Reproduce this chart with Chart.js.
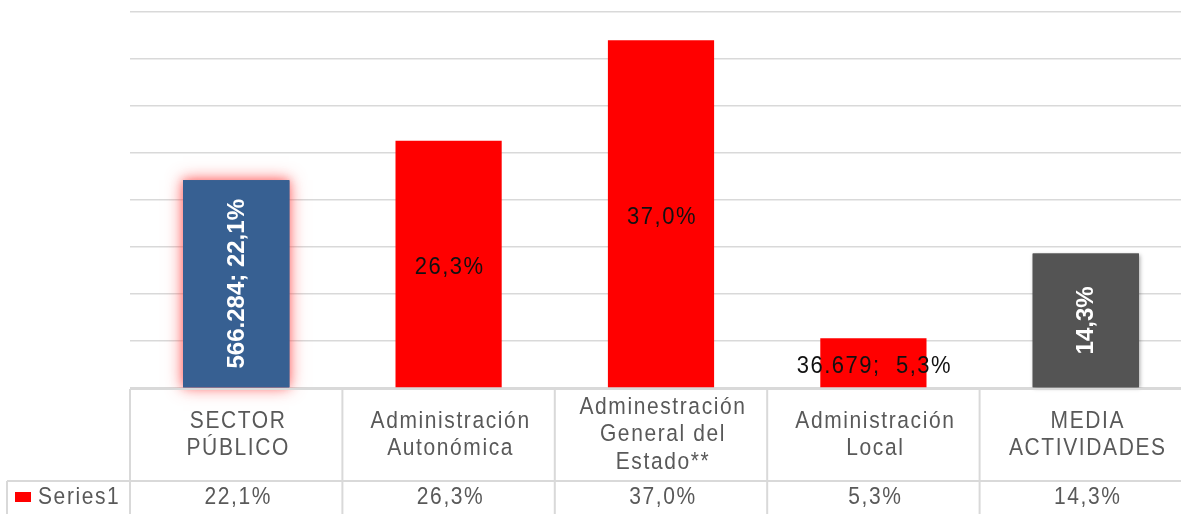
<!DOCTYPE html>
<html>
<head>
<meta charset="utf-8">
<script src="https://cdn.jsdelivr.net/npm/chart.js@4.4.1/dist/chart.umd.min.js"></script>
<style>
  html, body { margin: 0; padding: 0; background: #fff; overflow: hidden; }
  #wrap { width: 1192px; height: 514px; position: relative; }
</style>
</head>
<body>
<div id="wrap"><canvas id="chart"></canvas></div>
<script>
// Chart data
const categories = [
  ['SECTOR', 'PÚBLICO'],
  ['Administración', 'Autonómica'],
  ['Adminestración', 'General del', 'Estado**'],
  ['Administración', 'Local'],
  ['MEDIA', 'ACTIVIDADES']
];
const values = [22.1, 26.3, 37.0, 5.3, 14.3];
const barLabels = ['566.284; 22,1%', '26,3%', '37,0%', '36.679;  5,3%', '14,3%'];
const tableValues = ['22,1%', '26,3%', '37,0%', '5,3%', '14,3%'];
const seriesName = 'Series1';
const barColors = ['#376092', '#ff0000', '#ff0000', '#ff0000', '#545454'];

const GRID = '#d9d9d9';
const TEXT = '#595959';
const FONT = '"Liberation Sans", Arial, sans-serif';

// text in the original is a bit stretched vertically
function tallText(ctx, t, x, y, sy) {
  ctx.save();
  ctx.translate(x, y);
  ctx.scale(1, sy);
  ctx.fillText(t, 0, 0);
  ctx.restore();
}

// glow behind the first bar, soft shadow behind the last one
const barEffects = {
  id: 'barEffects',
  beforeDatasetsDraw(chart) {
    const ctx = chart.ctx;
    const bars = chart.getDatasetMeta(0).data;
    const glow = (bar, color, blur, off) => {
      const w = bar.width;
      ctx.save();
      ctx.shadowColor = color;
      ctx.shadowBlur = blur;
      ctx.shadowOffsetX = off;
      ctx.shadowOffsetY = off;
      ctx.fillStyle = bar.options.backgroundColor;
      ctx.fillRect(bar.x - w / 2, bar.y, w, bar.base - bar.y);
      ctx.restore();
    };
    glow(bars[0], 'rgba(255,60,60,0.75)', 16, 0);
    glow(bars[0], 'rgba(255,90,90,0.5)', 8, 0);
    glow(bars[4], 'rgba(0,0,0,0.35)', 4, 1);
  }
};

// value labels inside the bars
const barText = {
  id: 'barText',
  afterDatasetsDraw(chart) {
    const ctx = chart.ctx;
    const bars = chart.getDatasetMeta(0).data;
    bars.forEach((bar, i) => {
      const cy = (bar.y + bar.base) / 2;
      ctx.save();
      ctx.textAlign = 'center';
      ctx.textBaseline = 'middle';
      if (i === 0 || i === 4) {
        ctx.translate(bar.x + 1, cy);
        ctx.rotate(-Math.PI / 2);
        ctx.font = 'bold 24px ' + FONT;
        ctx.fillStyle = '#ffffff';
        ctx.fillText(barLabels[i], 0, 0);
      } else {
        ctx.font = '22px ' + FONT;
        ctx.letterSpacing = '1.5px';
        ctx.fillStyle = '#111111';
        tallText(ctx, barLabels[i], bar.x + 1, cy + 3, 1.12);
      }
      ctx.restore();
    });
  }
};

// data table under the plot
const dataTable = {
  id: 'dataTable',
  afterDraw(chart) {
    const ctx = chart.ctx;
    const { left, right, bottom } = chart.chartArea;
    const x = chart.scales.x;
    const n = categories.length;
    const rowTop = bottom + 1;
    const rowMid = bottom + 93;
    const rowEnd = chart.height;

    const edges = [];
    for (let i = 0; i <= n; i++) {
      if (i === 0) edges.push(left);
      else if (i === n) edges.push(right);
      else edges.push((x.getPixelForValue(i - 1) + x.getPixelForValue(i)) / 2);
    }

    ctx.save();
    ctx.strokeStyle = GRID;
    ctx.lineWidth = 2;
    ctx.beginPath();
    ctx.moveTo(left, rowTop); ctx.lineTo(right, rowTop);
    ctx.moveTo(7, rowMid); ctx.lineTo(right, rowMid);
    ctx.moveTo(7, rowMid); ctx.lineTo(7, rowEnd);
    edges.forEach(e => { ctx.moveTo(e, rowTop); ctx.lineTo(e, rowEnd); });
    ctx.stroke();

    ctx.fillStyle = TEXT;
    ctx.font = '21px ' + FONT;
    ctx.letterSpacing = '1.6px';
    ctx.textAlign = 'center';
    ctx.textBaseline = 'middle';
    const headMid = (rowTop + rowMid) / 2;
    const lh = 27.5;
    categories.forEach((lines, i) => {
      const cx = x.getPixelForValue(i) + 2;
      const y0 = headMid - (lines.length - 1) * lh / 2;
      lines.forEach((t, j) => tallText(ctx, t, cx, y0 + j * lh, 1.12));
      tallText(ctx, tableValues[i], cx, rowMid + 17, 1.12);
    });

    // legend key
    ctx.fillStyle = barColors[1];
    ctx.fillRect(15, rowMid + 11, 16, 10);
    ctx.fillStyle = TEXT;
    ctx.textAlign = 'left';
    tallText(ctx, seriesName, 38, rowMid + 17, 1.12);
    ctx.restore();
  }
};

new Chart(document.getElementById('chart'), {
  type: 'bar',
  data: {
    labels: categories,
    datasets: [{
      label: seriesName,
      data: values,
      backgroundColor: barColors,
      borderWidth: 0,
      categoryPercentage: 1,
      barPercentage: 0.5
    }]
  },
  options: {
    responsive: true,
    maintainAspectRatio: false,
    animation: false,
    layout: { padding: { left: 130, top: 12, bottom: 126, right: 0 } },
    plugins: {
      legend: { display: false },
      tooltip: { enabled: false }
    },
    scales: {
      x: { display: false },
      y: {
        min: 0,
        max: 40,
        ticks: { display: false, stepSize: 5 },
        grid: { color: GRID, lineWidth: 1.5, drawTicks: false },
        border: { display: false },
        afterFit(s) { s.width = 0; }
      }
    }
  },
  plugins: [barEffects, barText, dataTable]
});
</script>
</body>
</html>
